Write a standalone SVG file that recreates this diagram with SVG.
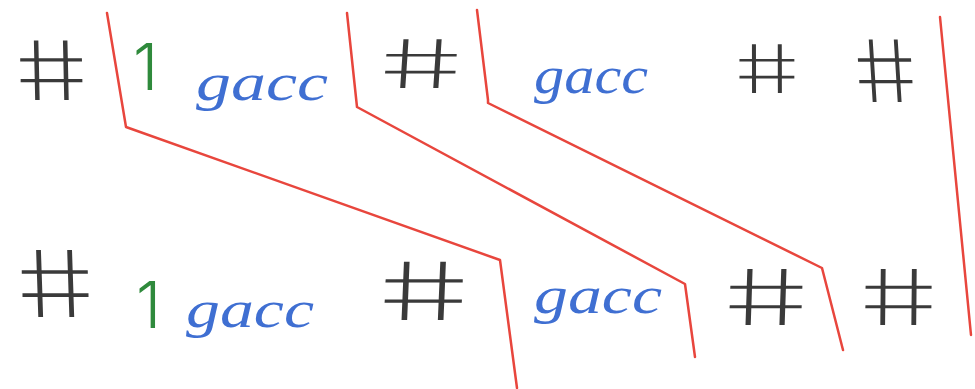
<svg xmlns="http://www.w3.org/2000/svg" width="975" height="389" viewBox="0 0 975 389">
<style>
.hash{font-family:Inter,"Liberation Sans",sans-serif;font-weight:200;fill:#3a3a3a;}
.one{font-family:Inter,"Liberation Sans",sans-serif;font-weight:300;fill:#2f8a3c;font-size:64px;}
.g{font-family:"Liberation Serif","Times New Roman",serif;font-style:italic;fill:#3f6fd2;font-size:52px;}
.red{fill:none;stroke:#e8463d;stroke-width:2.5;stroke-linejoin:round;stroke-linecap:round;}
</style>
<rect width="975" height="389" fill="#ffffff"/>
<g id="connectors">
<polyline class="red" points="107,13 126,127 500,260 517,388"/>
<polyline class="red" points="347,13 357,107 685,284 695,357"/>
<polyline class="red" points="477,10 488,100 488,103 822,268 843,350"/>
<polyline class="red" points="940,17 971,335"/>
</g>
<g id="top-hash1" transform="translate(51,69) skewX(14)"><text class="hash" x="-36" y="31" font-size="82" textLength="72" lengthAdjust="spacingAndGlyphs">#</text></g>
<g id="top-one"><text class="one" x="133" y="90">1</text></g>
<g id="top-gacc1"><text class="g" x="196" y="100" textLength="132" lengthAdjust="spacingAndGlyphs">gacc</text></g>
<g id="top-hash2" transform="translate(421,64) skewX(14)"><text class="hash" x="-41" y="24" font-size="67" textLength="82" lengthAdjust="spacingAndGlyphs">#</text></g>
<g id="top-gacc2"><text class="g" x="534" y="93" textLength="114" lengthAdjust="spacingAndGlyphs">gacc</text></g>
<g id="top-hash3" transform="translate(767,69) skewX(14)"><text class="hash" x="-32" y="24" font-size="67" textLength="64" lengthAdjust="spacingAndGlyphs">#</text></g>
<g id="top-hash4" transform="translate(885.3,71) skewX(14)"><text class="hash" x="-31" y="31" font-size="86" textLength="62" lengthAdjust="spacingAndGlyphs">#</text></g>
<g id="bottom-hash1" transform="translate(55.3,284) skewX(14)"><text class="hash" x="-38.5" y="33" font-size="92" textLength="77" lengthAdjust="spacingAndGlyphs">#</text></g>
<g id="bottom-one"><text class="one" x="136" y="328">1</text></g>
<g id="bottom-gacc1"><text class="g" x="186" y="327" textLength="128" lengthAdjust="spacingAndGlyphs">gacc</text></g>
<g id="bottom-hash2" transform="translate(423.8,291) skewX(14)"><text class="hash" x="-45" y="29" font-size="80" textLength="90" lengthAdjust="spacingAndGlyphs">#</text></g>
<g id="bottom-gacc2"><text class="g" x="534" y="313" textLength="128" lengthAdjust="spacingAndGlyphs">gacc</text></g>
<g id="bottom-hash3" transform="translate(766.1,297.5) skewX(14)"><text class="hash" x="-42" y="27.5" font-size="77" textLength="84" lengthAdjust="spacingAndGlyphs">#</text></g>
<g id="bottom-hash4" transform="translate(898.6,297.5) skewX(14)"><text class="hash" x="-38.5" y="27.5" font-size="77" textLength="77" lengthAdjust="spacingAndGlyphs">#</text></g>
</svg>
